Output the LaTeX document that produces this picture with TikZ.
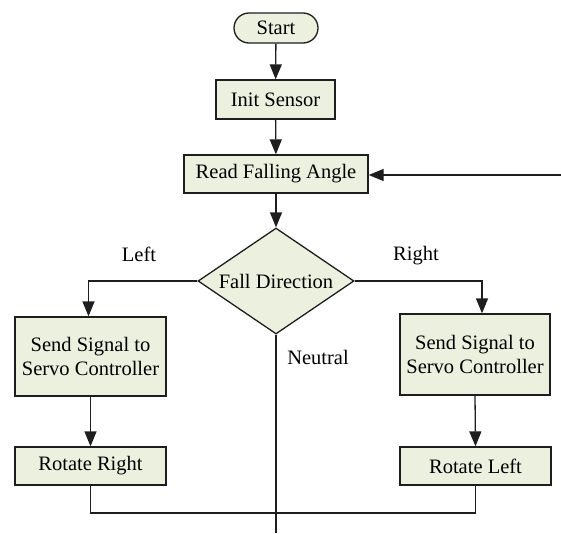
\documentclass[tikz,border=0pt]{standalone}
\usepackage{fontspec}
\setmainfont{Liberation Serif}
\usetikzlibrary{shapes.geometric,arrows.meta,positioning}
\definecolor{boxfill}{RGB}{235,241,222}
\definecolor{lineclr}{RGB}{30,30,30}
\tikzset{
  basefont/.style={font=\fontsize{20.5}{23.5}\selectfont},
  procbox/.style={basefont, draw=lineclr, line width=1.3pt, fill=boxfill, inner sep=0pt, align=center},
  termbox/.style={procbox, rounded corners=15pt},
  decbox/.style={basefont, draw=lineclr, line width=1.3pt, fill=boxfill, shape=diamond, inner sep=0pt, aspect=1.47, minimum width=156pt, minimum height=106pt},
  conn/.style={draw=lineclr, line width=1.3pt},
  arr/.style={conn, -{Triangle[length=15pt,width=12pt]}},
  lbl/.style={basefont, inner sep=0pt}
}
\begin{document}
\begin{tikzpicture}[x=1pt,y=-1pt]
\useasboundingbox (0,0) rectangle (561,533);
\node[termbox, minimum width=84pt, minimum height=30pt] (start) at (276,28) {Start};
\node[procbox, minimum width=119pt, minimum height=39pt] (init) at (275.5,99.5) {Init Sensor};
\node[procbox, minimum width=184pt, minimum height=38pt] (read) at (276,174) {Read Falling Angle};
\node[decbox] (dec) at (276,281) {Fall Direction};
\node[procbox, minimum width=151pt, minimum height=79pt] (lsend) at (90.5,356.5) {Send Signal to\\Servo Controller};
\node[procbox, minimum width=150pt, minimum height=81pt] (rsend) at (475,354.5) {Send Signal to\\Servo Controller};
\node[procbox, minimum width=151pt, minimum height=38pt] (lrot) at (90.5,466) {Rotate Right};
\node[procbox, minimum width=151pt, minimum height=38pt] (rrot) at (475.5,466) {Rotate Left};
\coordinate (loopin) at (561,175);
\coordinate (neutralend) at (276,533);
\coordinate (joinL) at (90.5,513);
\coordinate (joinR) at (475.5,513);
\node[lbl] (lleft) at (139,254) {Left};
\node[lbl] (lright) at (416,256) {Right};
\node[lbl] (lneutral) at (318,357) {Neutral};
\draw[arr] (start) -- (init);
\draw[arr] (init) -- (read);
\draw[arr] (read) -- (dec);
\draw[arr] (loopin) -- (read.east |- loopin);
\draw[arr] (dec.west) -| ([xshift=-2pt]lsend.north);
\draw[arr] (dec.east) -| ([xshift=7pt]rsend.north);
\draw[arr] (lsend) -- (lrot);
\draw[arr] (rsend.south) -- (rrot.north);
\draw[conn] (lrot.south) -- (joinL) -- (joinR) -- (rrot.south);
\draw[conn] (dec.south) -- (neutralend);
\end{tikzpicture}
\end{document}
